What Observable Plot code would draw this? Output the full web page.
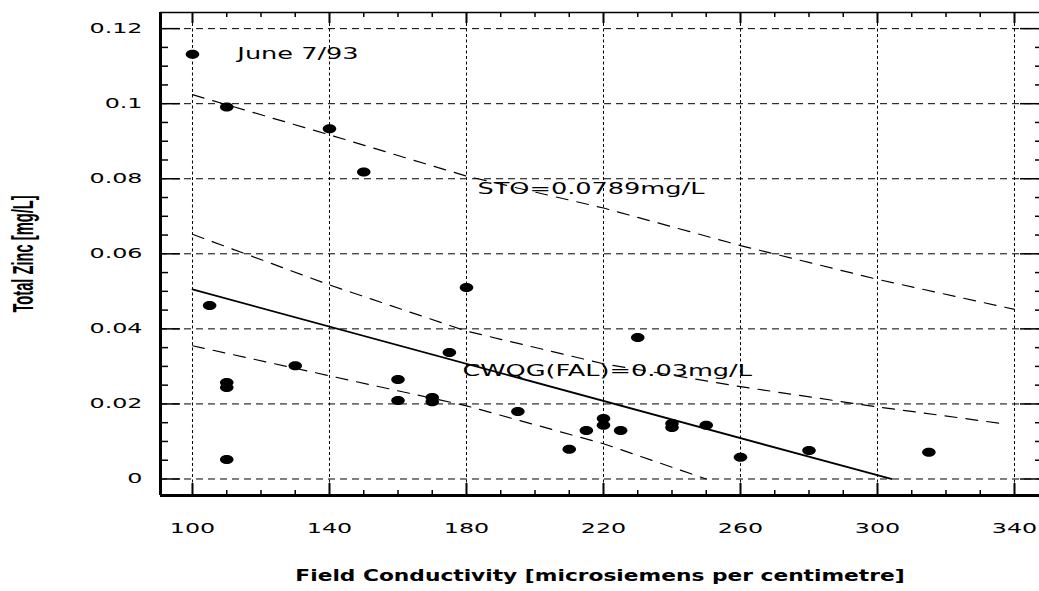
<!DOCTYPE html>
<html>
<head>
<meta charset="utf-8">
<script src="https://cdn.jsdelivr.net/npm/d3@7"></script>
<script src="https://cdn.jsdelivr.net/npm/@observablehq/plot@0.6"></script>
<style>
  html, body { margin: 0; padding: 0; background: #fff; }
  #chart { width: 1039px; height: 591px; }
</style>
</head>
<body>
<div id="chart"></div>
<script>
// ---------- data ----------
const conductivity = [100, 110, 140, 150, 105, 110, 110, 110, 130, 160, 160, 170, 170, 175, 180, 195,
                      210, 215, 220, 220, 225, 230, 240, 240, 250, 260, 280, 315];
const zinc = [0.1132, 0.0991, 0.0933, 0.0818, 0.0462, 0.0257, 0.0244, 0.0052, 0.0302, 0.0265, 0.0209,
              0.0217, 0.0206, 0.0337, 0.0510, 0.0180, 0.0079, 0.0129, 0.0161, 0.0143, 0.0129, 0.0377,
              0.0148, 0.0137, 0.0143, 0.0058, 0.0076, 0.0071];

// regression line (solid)
const fitX = [100, 304];
const fitY = [0.0505, 0.0];
// upper dashed band (outer)
const upperOuterX = [100, 140, 180, 220, 260, 300, 340];
const upperOuterY = [0.1024, 0.0917, 0.0807, 0.0722, 0.0622, 0.0532, 0.0452];
// upper dashed band (inner)
const upperInnerX = [100, 140, 180, 220, 260, 300, 337];
const upperInnerY = [0.0652, 0.0517, 0.0394, 0.0307, 0.0246, 0.0192, 0.0147];
// lower dashed band
const lowerInnerX = [100, 140, 180, 220, 250];
const lowerInnerY = [0.0355, 0.0275, 0.0195, 0.0094, 0.0];

// annotations
const noteText = ["June 7/93", "STO=0.0789mg/L", "CWQG(FAL)=0.03mg/L"];
const noteX = [113.1, 183.2, 178.8];
const noteY = [0.1133, 0.0773, 0.0289];

// axes
const xMajor = [100, 140, 180, 220, 260, 300, 340];
const xTickLabels = ["100", "140", "180", "220", "260", "300", "340"];
const xMinor = [110, 120, 130, 150, 160, 170, 190, 200, 210, 230, 240, 250, 270, 280, 290, 310, 320, 330];
const yMajor = [0, 0.02, 0.04, 0.06, 0.08, 0.1, 0.12];
const yTickLabels = ["0", "0.02", "0.04", "0.06", "0.08", "0.1", "0.12"];
const yMinor = [0.005, 0.01, 0.015, 0.025, 0.03, 0.035, 0.045, 0.05, 0.055, 0.065, 0.07, 0.075,
                0.085, 0.09, 0.095, 0.105, 0.11, 0.115];
const xTitle = "Field Conductivity [microsiemens per centimetre]";
const yTitle = "Total Zinc [mg/L]";

// ---------- layout ----------
const W = 1039, H = 591;
const M = {top: 12, right: 0, bottom: 96, left: 160};
const FW = W - M.left - M.right;
const FH = H - M.top - M.bottom;
const xDomain = [90.66, 347.3];
const yDomain = [-0.0044, 0.1243];

const rows = (xs, ys) => xs.map((x, i) => ({x, y: ys[i]}));
const points = rows(conductivity, zinc);
const notes = noteText.map((t, i) => ({t, x: noteX[i], y: noteY[i]}));

// filled ellipse symbol (the markers are wider than tall)
const ellipse = {
  draw(ctx, size) {
    const r = Math.sqrt(size / Math.PI);
    const rx = r * 1.35, ry = r * 0.9, k = 0.5523;
    ctx.moveTo(rx, 0);
    ctx.bezierCurveTo(rx, k * ry, k * rx, ry, 0, ry);
    ctx.bezierCurveTo(-k * rx, ry, -rx, k * ry, -rx, 0);
    ctx.bezierCurveTo(-rx, -k * ry, -k * rx, -ry, 0, -ry);
    ctx.bezierCurveTo(k * rx, -ry, rx, -k * ry, rx, 0);
    ctx.closePath();
  }
};

const dashBand = {x: "x", y: "y", stroke: "black", strokeWidth: 1.2, strokeDasharray: "12,9"};

const plot = Plot.plot({
  width: W, height: H,
  marginTop: M.top, marginRight: M.right, marginBottom: M.bottom, marginLeft: M.left,
  x: {domain: xDomain},
  y: {domain: yDomain},
  style: {fontFamily: "DejaVu Sans", fontSize: "14px", color: "black", background: "white", overflow: "visible"},
  marks: [
    Plot.gridX(xMajor, {stroke: "black", strokeOpacity: 1, strokeWidth: 1, strokeDasharray: "3,2.5"}),
    Plot.gridY(yMajor, {stroke: "black", strokeOpacity: 1, strokeWidth: 1, strokeDasharray: "7,5"}),

    // frame ticks (pointing inward)
    Plot.tickX(xMajor, {x: d => d, stroke: "black", strokeWidth: 2, insetTop: FH - 12}),
    Plot.tickX(xMinor, {x: d => d, stroke: "black", strokeWidth: 1.5, insetTop: FH - 5}),
    Plot.tickX(xMajor, {x: d => d, stroke: "black", strokeWidth: 2, insetBottom: FH - 11}),
    Plot.tickX(xMinor, {x: d => d, stroke: "black", strokeWidth: 1.5, insetBottom: FH - 5}),
    Plot.tickY(yMajor, {y: d => d, stroke: "black", strokeWidth: 1.5, insetRight: FW - 20}),
    Plot.tickY(yMinor, {y: d => d, stroke: "black", strokeWidth: 1.5, insetRight: FW - 8}),
    Plot.tickY(yMajor, {y: d => d, stroke: "black", strokeWidth: 1.5, insetLeft: FW - 19}),
    Plot.tickY(yMinor, {y: d => d, stroke: "black", strokeWidth: 1.5, insetLeft: FW - 4}),

    // frame lines
    Plot.ruleX([xDomain[0]], {stroke: "black", strokeWidth: 3}),
    Plot.ruleY([yDomain[0]], {stroke: "black", strokeWidth: 3}),
    Plot.ruleY([yDomain[1]], {stroke: "black", strokeWidth: 1.5}),

    // tick labels
    Plot.axisX(xMajor, {tickSize: 0, tickPadding: 28, label: null, fontSize: 14,
      tickFormat: d => xTickLabels[xMajor.indexOf(d)]}),
    Plot.axisY(yMajor, {tickSize: 0, tickPadding: 18, label: null, fontSize: 14,
      tickFormat: d => yTickLabels[yMajor.indexOf(d)]}),

    // band and fit lines
    Plot.line(rows(upperOuterX, upperOuterY), dashBand),
    Plot.line(rows(upperInnerX, upperInnerY), dashBand),
    Plot.line(rows(lowerInnerX, lowerInnerY), dashBand),
    Plot.line(rows(fitX, fitY), {x: "x", y: "y", stroke: "black", strokeWidth: 1.8}),

    // observations
    Plot.dot(points, {x: "x", y: "y", r: 5, symbol: ellipse, fill: "black", stroke: "none"}),

    // annotations
    Plot.text(notes, {x: "x", y: "y", text: "t", textAnchor: "start", fontSize: 16, fill: "black"}),

    // axis titles
    Plot.text([xTitle], {text: d => d, frameAnchor: "bottom", dy: 85, textAnchor: "middle", fontSize: 16,
      fontWeight: "bold", fill: "black"}),
    Plot.text([yTitle], {text: d => d, frameAnchor: "left", dx: -137, rotate: -90, textAnchor: "middle",
      fontSize: 30, fontWeight: "bold", fontFamily: "Liberation Sans", fill: "black"})
  ]
});

// horizontal stretch of the lettering, as in the scanned original
const xTickSet = new Set(xTickLabels), yTickSet = new Set(yTickLabels), noteSet = new Set(noteText);
plot.querySelectorAll("text").forEach(t => {
  const s = t.textContent;
  let sx = null;
  if (xTickSet.has(s) || yTickSet.has(s)) sx = 1.7;
  else if (noteSet.has(s)) sx = 1.6;
  else if (s === xTitle) sx = 1.36;
  else if (s === yTitle) sx = 0.49;
  if (sx != null) {
    const tr = t.getAttribute("transform") || "";
    t.setAttribute("transform", tr + ` scale(${sx},1)`);
  }
});

document.getElementById("chart").appendChild(plot);
</script>
</body>
</html>
